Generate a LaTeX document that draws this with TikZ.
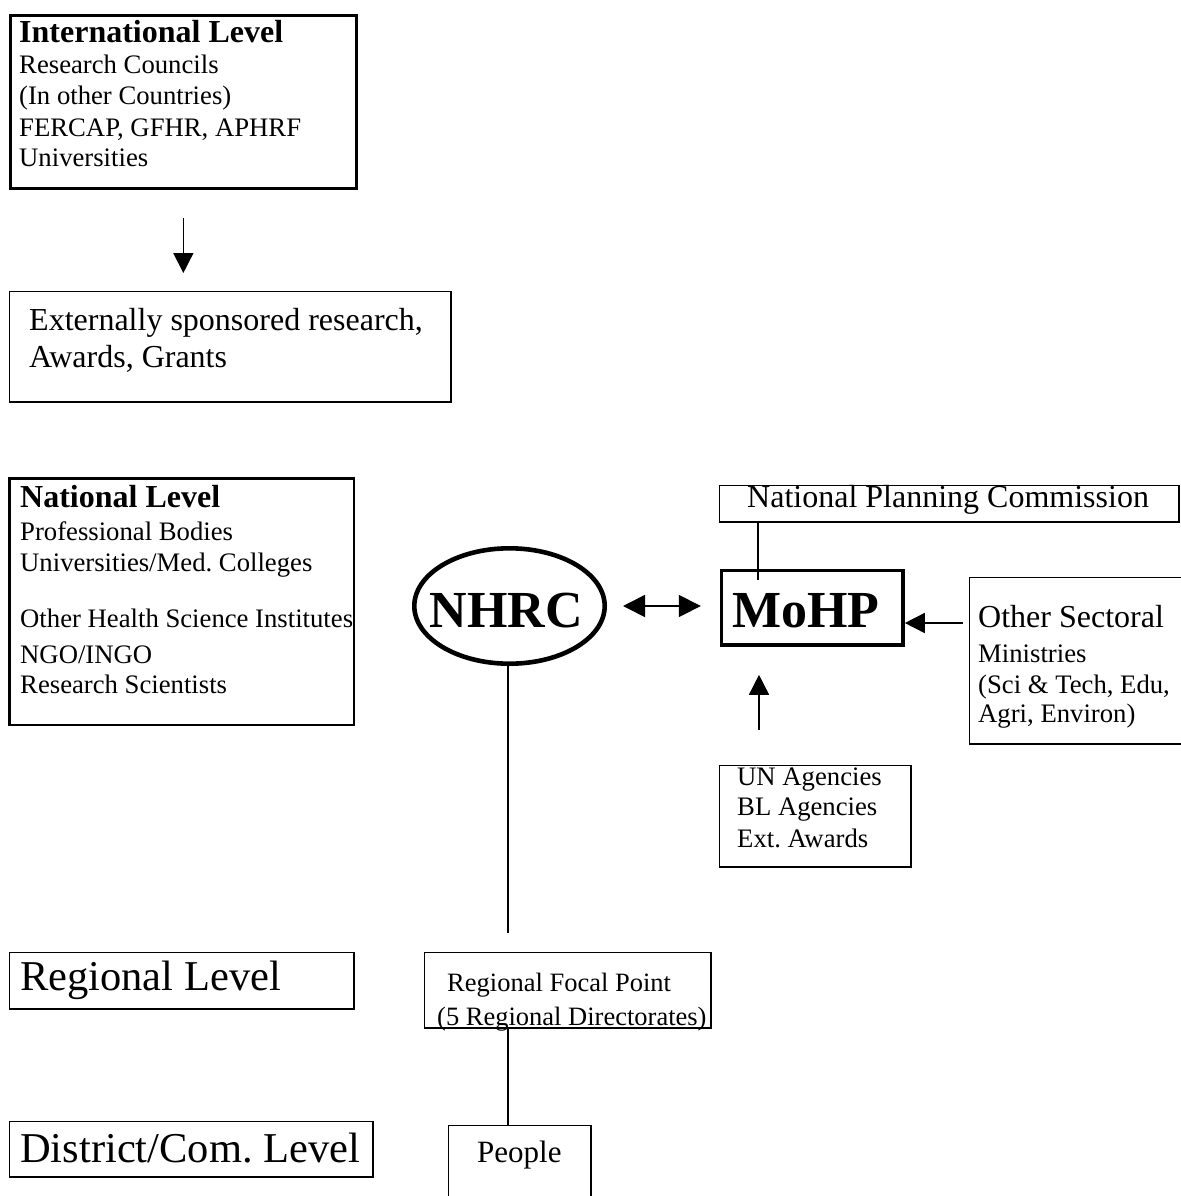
\documentclass[tikz,border=0pt]{standalone}
\usepackage{fontspec}
\setmainfont{Liberation Serif}
\usetikzlibrary{arrows.meta,shapes.geometric}
\newcommand\myfs[1]{\fontsize{#1}{#1}\selectfont}
\frenchspacing
\begin{document}
\begin{tikzpicture}[x=1pt,y=-1pt,
  box/.style={draw, line width=1.6pt, inner sep=0pt, anchor=north west},
  heavybox/.style={box, line width=3.3pt},
  lbl/.style={inner sep=0pt, anchor=base west},
  body/.style={lbl, font=\myfs{26.7}},
  head/.style={lbl, font=\bfseries\myfs{32}},
  big/.style={lbl, font=\myfs{32}},
  huge/.style={lbl, font=\myfs{42.5}},
  con/.style={line width=1.6pt},
  arr/.style={line width=1.6pt, -{Triangle[length=20pt,width=20pt]}},
  darr/.style={line width=1.6pt, {Triangle[length=22pt,width=22pt]}-{Triangle[length=22pt,width=22pt]}}]
\fill[white] (0,0) rectangle (1180,1196);
\useasboundingbox (0,0) rectangle (1180,1196);

% boxes
\node[heavybox, minimum width=346pt, minimum height=173pt] (intl) at (8.7,13.7) {};
\node[box, minimum width=441.4pt, minimum height=110.4pt] (ext) at (8.8,290.8) {};
\node[heavybox, line width=2.8pt, minimum width=344.2pt, minimum height=246.2pt] (nat) at (8.4,477.4) {};
\node[draw, ellipse, line width=4.6pt, inner sep=0pt, minimum width=190.4pt, minimum height=115.4pt] (nhrc) at (509.5,606) {};
\node[heavybox, line width=3.6pt, minimum width=181.4pt, minimum height=74.4pt] (mohp) at (719.8,568.8) {};
\node[box, minimum width=459.4pt, minimum height=36.4pt] (npc) at (718.8,484.8) {};
\node[box, minimum width=230pt, minimum height=166.4pt] (os) at (968.8,576.8) {};
\node[box, minimum width=191.4pt, minimum height=101.4pt] (un) at (718.8,764.8) {};
\node[box, minimum width=286.4pt, minimum height=75.4pt] (rfp) at (423.8,951.8) {};
\node[box, minimum width=142.4pt, minimum height=100pt] (ppl) at (447.8,1124.8) {};
\node[box, minimum width=344.4pt, minimum height=56.4pt] (reg) at (8.8,951.8) {};
\node[box, minimum width=363.4pt, minimum height=55.4pt] (dist) at (8.8,1120.8) {};

% texts
\node[head] (i1) at (19,43) {International Level};
\node[body] (i2) at (19,74) {Research Councils};
\node[body] (i3) at (19,105) {(In other Countries)};
\node[body] (i4) at (19,136) {FERCAP, GFHR, APHRF};
\node[body] (i5) at (19,166) {Universities};

\node[big] (e1) at (29,330) {Externally sponsored research,};
\node[big] (e2) at (29,367) {Awards, Grants};

\node[head] (n1) at (20,507) {National Level};
\node[body] (n2) at (20,540) {Professional Bodies};
\node[body] (n3) at (20,571) {Universities/Med. Colleges};
\node[body] (n4) at (20,627) {Other Health Science Institutes};
\node[body] (n5) at (20,663) {NGO/INGO};
\node[body] (n6) at (20,693) {Research Scientists};

\node[inner sep=0pt, anchor=base, font=\bfseries\myfs{52}] (nhrcT) at (506.5,627) {NHRC};
\node[inner sep=0pt, anchor=base, font=\bfseries\myfs{52}] (mohpT) at (806,627) {MoHP};
\node[big] (p1) at (747,507) {National Planning Commission};

\node[big] (o1) at (978,627) {Other Sectoral};
\node[body] (o2) at (978,662) {Ministries};
\node[body] (o3) at (978,693) {(Sci \& Tech, Edu,};
\node[body] (o4) at (978,722) {Agri, Environ)};

\node[body] (u1) at (737,785) {UN Agencies};
\node[body] (u2) at (737,815) {BL Agencies};
\node[body] (u3) at (737,847) {Ext. Awards};

\node[lbl, font=\myfs{26.5}] (r1) at (447,991) {Regional Focal Point};
\node[lbl, font=\myfs{26.5}] (r2) at (437,1025) {(5 Regional Directorates)};
\node[lbl, font=\myfs{31}] (pp) at (477,1162) {People};

\node[huge] (rl) at (20,990) {Regional Level};
\node[huge] (dl) at (20,1162) {District/Com. Level};

% connectors
\coordinate (colX) at (508,0);
\coordinate (npcdrop) at (758,580);
\coordinate (osY) at (0,623);
\coordinate (unX) at (759,0);

\draw[arr, shorten <=28.3pt, shorten >=17.8pt] (intl.south) -- (intl.south |- ext.north);
\draw[darr, shorten <=16pt, shorten >=19pt] (nhrc.east) -- (mohp.west |- nhrc.east);
\draw[con] (npc.south -| npcdrop) -- (npcdrop);
\draw[arr, shorten <=6pt] (os.west |- osY) -- (mohp.east |- osY);
\draw[arr, shorten <=35pt, shorten >=28pt] (un.north -| unX) -- (mohp.south -| unX);
\draw[con, shorten >=19pt] (nhrc.south -| colX) -- (rfp.north -| colX);
\draw[con] (rfp.south -| colX) -- (ppl.north -| colX);
\end{tikzpicture}
\end{document}
